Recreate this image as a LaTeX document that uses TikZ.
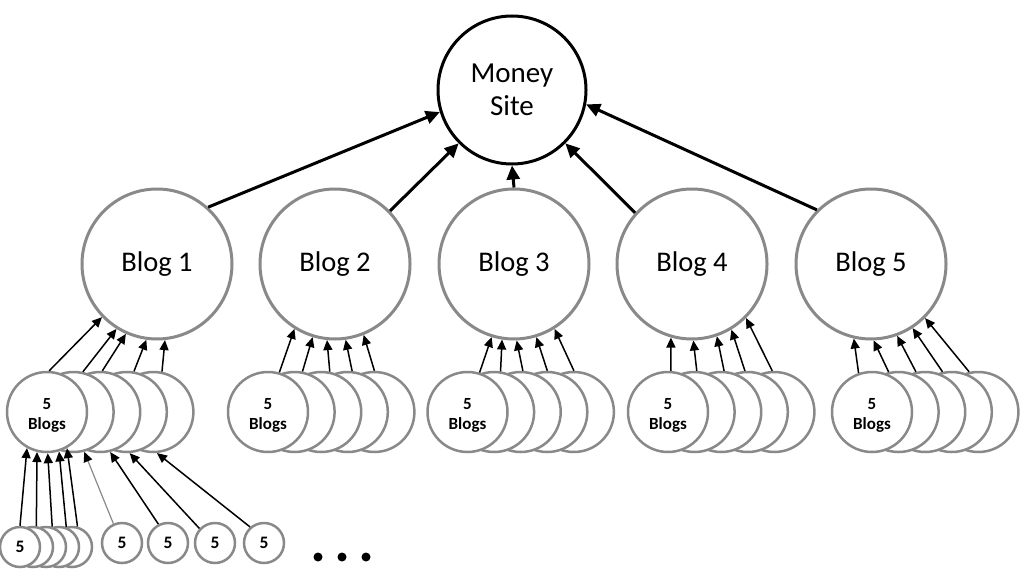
\documentclass[tikz,border=0pt]{standalone}
\usepackage{fontspec}
\setmainfont{Carlito}
\usetikzlibrary{arrows.meta}
\definecolor{cgray}{RGB}{137,137,137}
\begin{document}
\begin{tikzpicture}[x=1pt,y=-1pt,
  money/.style={circle,draw=black,line width=3pt,minimum size=148pt,inner sep=0pt,fill=white,font=\fontsize{29}{33}\selectfont,align=center},
  blog/.style={circle,draw=cgray,line width=3pt,minimum size=150pt,inner sep=0pt,fill=white,font=\fontsize{28.5}{33}\selectfont},
  sub/.style={circle,draw=cgray,line width=2.5pt,minimum size=80pt,inner sep=0pt,fill=white},
  subtext/.style={inner sep=0pt,font=\bfseries\fontsize{17}{20.5}\selectfont,align=center},
  leaf/.style={circle,draw=cgray,line width=2.5pt,minimum size=40pt,inner sep=0pt,fill=white,font=\bfseries\fontsize{17.5}{19}\selectfont},
  bigarrow/.style={line width=3pt,-{Triangle[length=14pt,width=13pt]}},
  smallarrow/.style={line width=1.5pt,-{Triangle[length=10pt,width=9pt]}},
  greyarrow/.style={draw=cgray,line width=1.2pt,-{Triangle[length=10pt,width=9pt,black]}},
  dot/.style={circle,fill=black,minimum size=9pt,inner sep=0pt}]
\useasboundingbox (0,0) rectangle (1024,575);

% money site
\node[money] (m) at (512,90) {Money\\Site};

% blogs
\foreach \x/\i in {157/1,335/2,514/3,692/4,871/5}
  \node[blog] (b\i) at (\x,264) {Blog \i};

% tier 2 stacks
\foreach \gx [count=\i] in {47,268,467.5,668,872} {
  \foreach \j in {5,4,3,2,1}
    \node[sub] (g\i-\j) at ({\gx+26.6*(\j-1)},412) {};
  \node[subtext] (g\i-t) at ([yshift=-3.5pt]g\i-1.center) {5\\Blogs};
}

% tier 3
\foreach \k/\x in {5/72,4/59,3/46,2/33}
  \node[leaf] (s\k) at (\x,547) {};
\node[leaf] (s1) at (20,547) {5};
\foreach \k/\x in {1/122,2/168,3/215,4/264}
  \node[leaf] (t\k) at (\x,543) {5};

% dots
\node[dot] (d1) at (318,557) {};
\node[dot] (d2) at (342,557) {};
\node[dot] (d3) at (366,557) {};

% arrows to money site
\foreach \i/\a/\b in {1/48/197,2/44/225,3/90/270,4/138/315,5/135/349}
  \draw[bigarrow] (b\i.\a) -- (m.\b);

% arrows tier 2 -> blogs
\foreach \j/\a/\b in {1/87/224,2/77/238,3/87/246,4/80/262,5/78/276}
  \draw[smallarrow] (g1-\j.\a) -- (b1.\b);
\foreach \j/\a/\b in {1/74/238,2/79/253,3/78/264,4/84/278,5/90/292}
  \draw[smallarrow] (g2-\j.\a) -- (b2.\b);
\foreach \j/\a/\b in {1/73/253,2/81/261,3/87/272,4/90/287,5/90/302}
  \draw[smallarrow] (g3-\j.\a) -- (b3.\b);
\foreach \j/\a/\b in {1/86/254,2/87/271,3/86/289,4/94/301,5/93/315}
  \draw[smallarrow] (g4-\j.\a) -- (b4.\b);
\foreach \j/\a/\b in {1/109/257,2/104/272,3/103/290,4/103/303,5/103/315}
  \draw[smallarrow] (g5-\j.\a) -- (b5.\b);

% arrows tier 3 -> tier 2
\foreach \k/\a/\b in {1/90/241,2/81/256,3/73/271,4/70/287,5/75/299}
  \draw[smallarrow] (s\k.\a) -- (g1-1.\b);
\draw[greyarrow] (t1.114) -- (g1-2.285);
\draw[smallarrow] (t2.117) -- (g1-3.284);
\draw[smallarrow] (t3.137) -- (g1-4.274);
\draw[smallarrow] (t4.131) -- (g1-5.275);
\end{tikzpicture}
\end{document}
